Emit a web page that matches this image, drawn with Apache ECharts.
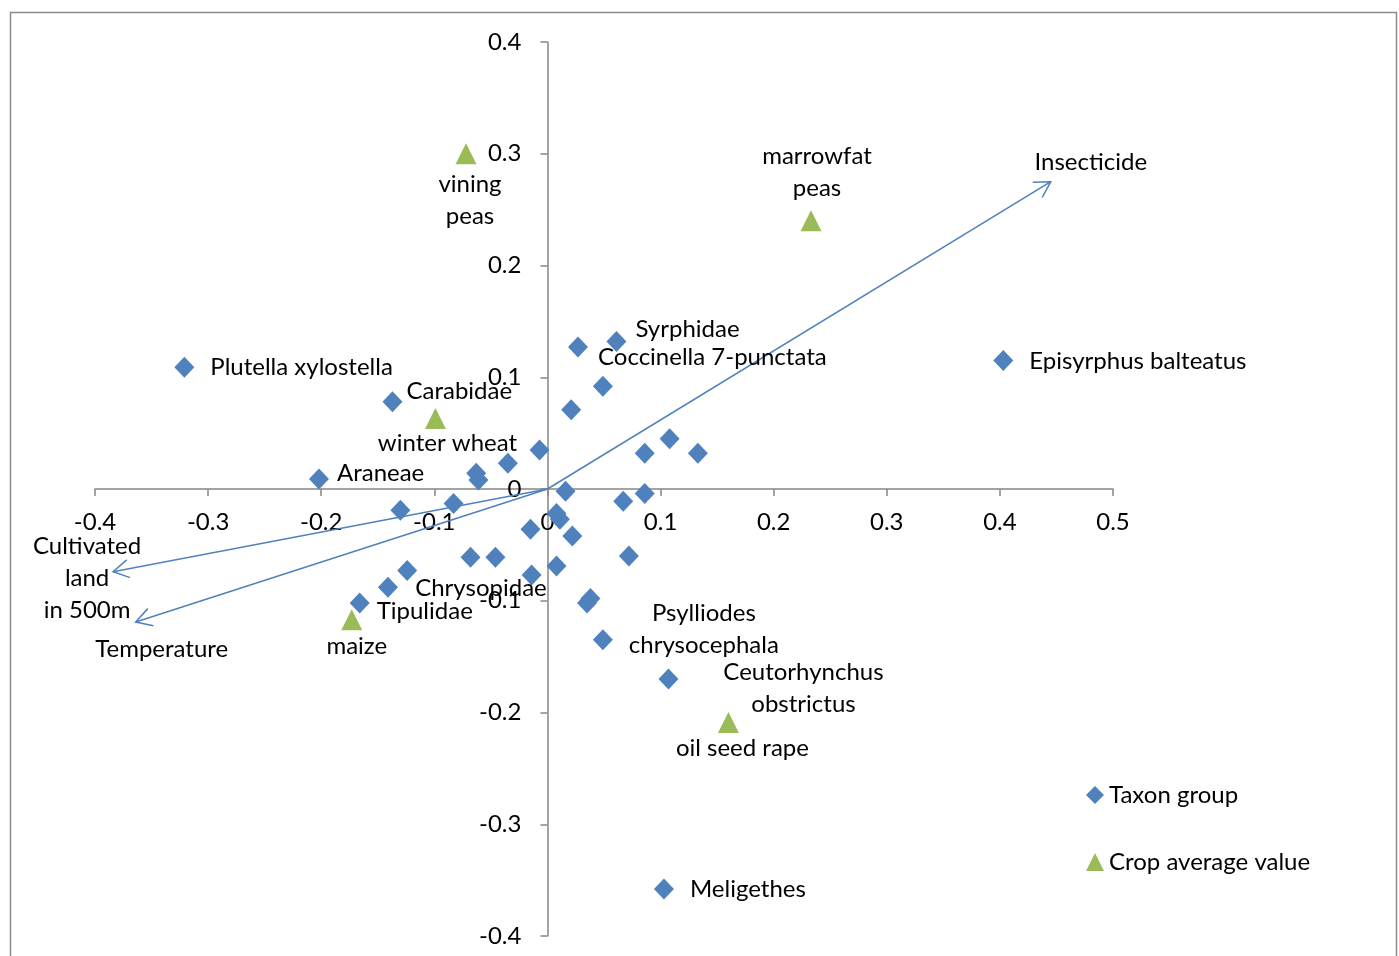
<!DOCTYPE html>
<html>
<head>
<meta charset="utf-8">
<script src="https://cdn.jsdelivr.net/npm/echarts@6/dist/echarts.min.js"></script>
<style>
  html, body { margin: 0; padding: 0; background: #fff; }
  #chart { width: 1399px; height: 956px; }
</style>
</head>
<body>
<div id="chart"></div>
<script>
// Ordination scores of taxon groups (axis 1, axis 2); empty names are unlabelled points
const taxonNames = [
  'Plutella xylostella', 'Carabidae', 'Araneae', 'Syrphidae', 'Coccinella 7-punctata',
  'Episyrphus balteatus', 'Chrysopidae', 'Tipulidae', 'Psylliodes\nchrysocephala',
  'Ceutorhynchus\nobstrictus', 'Meligethes',
  '', '', '', '', '', '', '', '', '', '', '', '', '', '', '', '', '', '', '', '', '', '', '', '', '', ''
];
const taxonX = [
  -0.321, -0.137, -0.202, 0.061, 0.027,
  0.403, -0.124, -0.166, 0.049,
  0.107, 0.103,
  0.049, 0.021, -0.007, 0.086, 0.108, 0.133, 0.016, 0.067, 0.086, 0.008, 0.011, 0.022,
  -0.015, 0.072, 0.008, -0.014, 0.035, 0.038, -0.063, -0.061, -0.035, -0.130, -0.083,
  -0.068, -0.046, -0.141
];
const taxonY = [
  0.109, 0.078, 0.009, 0.132, 0.127,
  0.115, -0.073, -0.102, -0.135,
  -0.170, -0.358,
  0.092, 0.071, 0.035, 0.032, 0.045, 0.032, -0.002, -0.011, -0.004, -0.022, -0.027, -0.042,
  -0.036, -0.060, -0.069, -0.077, -0.102, -0.098, 0.014, 0.008, 0.023, -0.019, -0.013,
  -0.061, -0.061, -0.088
];

// Crop average values
const cropNames = ['vining\npeas', 'marrowfat\npeas', 'winter wheat', 'maize', 'oil seed rape'];
const cropX = [-0.072, 0.233, -0.099, -0.173, 0.160];
const cropY = [0.300, 0.240, 0.063, -0.117, -0.209];

// Environmental vectors drawn from the origin
const vectorNames = ['Insecticide', 'Cultivated\nland\nin 500m', 'Temperature'];
const vectorX = [0.445, -0.384, -0.364];
const vectorY = [0.275, -0.074, -0.119];

// Axis ranges
const xMin = -0.4, xMax = 0.5, yMin = -0.4, yMax = 0.4, tickStep = 0.1;

// Label placement: [dx, dy, align] relative to the marker centre, in pixels
const labelPlacement = {
  'Plutella xylostella': [26, 0, 'left'],
  'Carabidae': [14, -11, 'left'],
  'Araneae': [18, -6, 'left'],
  'Syrphidae': [19, -12, 'left'],
  'Coccinella 7-punctata': [20, 10, 'left'],
  'Episyrphus balteatus': [26, 1, 'left'],
  'Chrysopidae': [8, 18, 'left'],
  'Tipulidae': [17, 8, 'left'],
  'Psylliodes\nchrysocephala': [101, -11, 'center'],
  'Ceutorhynchus\nobstrictus': [135, 9, 'center'],
  'Meligethes': [26, 0, 'left'],
  'vining\npeas': [4, 47, 'center'],
  'marrowfat\npeas': [6, -49, 'center'],
  'winter wheat': [12, 25, 'center'],
  'maize': [5, 27, 'center'],
  'oil seed rape': [14, 26, 'center'],
  'Insecticide': [40, -19, 'center'],
  'Cultivated\nland\nin 500m': [-26, 7, 'center'],
  'Temperature': [26, 27, 'center']
};

const FONT = 'Lato, "Open Sans", sans-serif';
const FONT_SIZE = 24;
const LINE_H = 32;
const BLUE = '#4F81BD';
const GREEN = '#9BBB59';
const AXIS_GREY = '#868686';

// Plot area; the axes cross at the origin, so they are shifted in from the grid edges
const GRID = { left: 95, top: 42, width: 1018, height: 894 };
const originX = GRID.left + (0 - xMin) / (xMax - xMin) * GRID.width;
const originY = GRID.top + (yMax - 0) / (yMax - yMin) * GRID.height;
const xAxisOffset = originY - (GRID.top + GRID.height);   // negative: move up from the bottom edge
const yAxisOffset = GRID.left - originX;                   // negative: move right from the left edge

function labelFor(name) {
  if (!name) return { show: false };
  const p = labelPlacement[name] || [16, 0, 'left'];
  return {
    show: true,
    position: 'inside',
    align: p[2],
    verticalAlign: 'middle',
    offset: [p[0], p[1]],
    formatter: '{b}',
    color: '#000',
    fontFamily: FONT,
    fontSize: FONT_SIZE,
    lineHeight: LINE_H
  };
}

const fmt = v => {
  const r = Math.round(v * 10) / 10;
  return r === 0 ? '0' : String(r);
};

const chart = echarts.init(document.getElementById('chart'), null, { renderer: 'canvas' });

chart.setOption({
  animation: false,
  backgroundColor: '#fff',
  textStyle: { fontFamily: FONT },
  graphic: [{
    type: 'rect',
    silent: true,
    z: -1,
    shape: { x: 10.5, y: 12.5, width: 1386, height: 980 },
    style: { fill: null, stroke: '#8c8c8c', lineWidth: 1.5 }
  }],
  grid: {
    left: GRID.left, top: GRID.top, width: GRID.width, height: GRID.height,
    containLabel: false, outerBoundsMode: 'none'
  },
  xAxis: {
    type: 'value', min: xMin, max: xMax, interval: tickStep,
    position: 'bottom', offset: xAxisOffset,
    axisLine: { onZero: false, lineStyle: { color: AXIS_GREY, width: 1.5 } },
    axisTick: { show: true, length: 7, inside: false, lineStyle: { color: AXIS_GREY, width: 1.5 } },
    splitLine: { show: false },
    axisLabel: { formatter: fmt, color: '#000', fontFamily: FONT, fontSize: FONT_SIZE, margin: 21 }
  },
  yAxis: {
    type: 'value', min: yMin, max: yMax, interval: tickStep,
    position: 'left', offset: yAxisOffset,
    axisLine: { onZero: false, lineStyle: { color: AXIS_GREY, width: 1.5 } },
    axisTick: { show: true, length: 7, inside: false, lineStyle: { color: AXIS_GREY, width: 1.5 } },
    splitLine: { show: false },
    axisLabel: { formatter: fmt, color: '#000', fontFamily: FONT, fontSize: FONT_SIZE, margin: 26 }
  },
  legend: {
    data: ['Taxon group', 'Crop average value'],
    orient: 'vertical',
    left: 1081,
    top: 778,
    itemWidth: 18,
    itemHeight: 18,
    itemGap: 43,
    textStyle: { color: '#000', fontFamily: FONT, fontSize: FONT_SIZE },
    selectedMode: false
  },
  series: [
    {
      name: 'vectors',
      type: 'custom',
      coordinateSystem: 'cartesian2d',
      silent: true,
      z: 3,
      data: vectorX.map((x, i) => [x, vectorY[i]]),
      renderItem(params, api) {
        const i = params.dataIndex;
        const o = api.coord([0, 0]);
        const t = api.coord([api.value(0), api.value(1)]);
        const ang = Math.atan2(t[1] - o[1], t[0] - o[0]);
        const L = 18, w = Math.PI / 6;
        const p1 = [t[0] - L * Math.cos(ang - w), t[1] - L * Math.sin(ang - w)];
        const p2 = [t[0] - L * Math.cos(ang + w), t[1] - L * Math.sin(ang + w)];
        const pl = labelPlacement[vectorNames[i]];
        return {
          type: 'group',
          children: [
            { type: 'line', shape: { x1: o[0], y1: o[1], x2: t[0], y2: t[1] },
              style: { stroke: BLUE, lineWidth: 1.5 } },
            { type: 'polyline', shape: { points: [p1, t, p2] },
              style: { stroke: BLUE, lineWidth: 1.5, fill: null } },
            { type: 'text', x: t[0] + pl[0], y: t[1] + pl[1],
              style: { text: vectorNames[i], align: 'center', verticalAlign: 'middle',
                       fill: '#000', fontFamily: FONT, fontSize: FONT_SIZE, lineHeight: LINE_H } }
          ]
        };
      }
    },
    {
      name: 'Taxon group',
      type: 'scatter',
      symbol: 'diamond',
      symbolSize: [20, 21],
      z: 4,
      itemStyle: { color: BLUE, opacity: 1 },
      data: taxonX.map((x, i) => ({ name: taxonNames[i], value: [x, taxonY[i]], label: labelFor(taxonNames[i]) }))
    },
    {
      name: 'Crop average value',
      type: 'scatter',
      symbol: 'triangle',
      symbolSize: [21, 21],
      z: 4,
      itemStyle: { color: GREEN, opacity: 1 },
      data: cropX.map((x, i) => ({ name: cropNames[i], value: [x, cropY[i]], label: labelFor(cropNames[i]) }))
    }
  ]
});
</script>
</body>
</html>
